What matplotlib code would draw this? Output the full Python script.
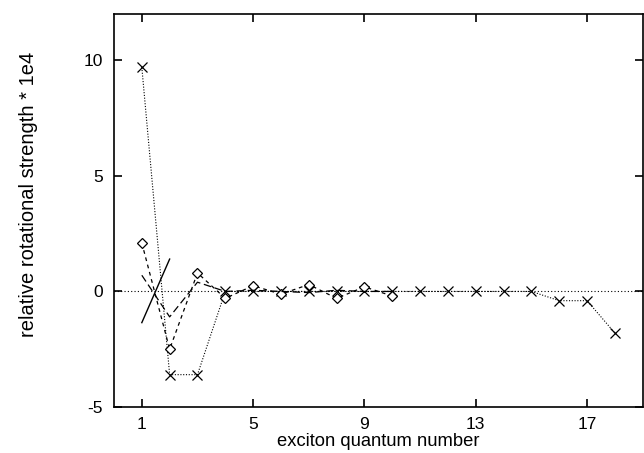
import matplotlib
matplotlib.use("Agg")
import matplotlib.pyplot as plt

plt.rcParams['font.family'] = ['Liberation Sans', 'DejaVu Sans']
plt.rcParams['axes.unicode_minus'] = False

# Data
x_cross = [1, 2, 3, 4, 5, 6, 7, 8, 9, 10, 11, 12, 13, 14, 15, 16, 17, 18]
y_cross = [9.7, -3.6, -3.6, 0.0, 0.0, 0.0, 0.0, 0.0, 0.0, 0.0, 0.0, 0.0, 0.0, 0.0, 0.0, -0.4, -0.4, -1.8]

x_diam = [1, 2, 3, 4, 5, 6, 7, 8, 9, 10]
y_diam = [2.1, -2.5, 0.8, -0.3, 0.25, -0.12, 0.3, -0.3, 0.2, -0.2]

x_long = [1, 2, 3, 4, 5, 6, 7, 8, 9, 10]
y_long = [0.7, -1.1, 0.4, 0.0, 0.05, 0.0, -0.05, 0.05, 0.0, 0.0]

x_solid = [1, 2]
y_solid = [-1.35, 1.4]

xticks = [1, 5, 9, 13, 17]
yticks = [-5, 0, 5, 10]

fig = plt.figure(figsize=(6.44, 4.53), dpi=100)
ax = fig.add_axes([0.177, 0.1015, 0.821, 0.8675])

ax.axhline(0, color='black', lw=0.8, ls=(0, (1, 2)))
ax.plot(x_cross, y_cross, color='black', lw=0.8, ls=(0, (1, 1.5)),
        marker='x', ms=7, mew=0.9)
ax.plot(x_diam, y_diam, color='black', lw=0.9, ls=(0, (3, 3)),
        marker='D', ms=5.5, mfc='white', mew=0.9)
ax.plot(x_long, y_long, color='black', lw=0.9, ls=(0, (6, 3)))
ax.plot(x_solid, y_solid, color='black', lw=1.0, ls='-')

ax.set_xlim(0, 19)
ax.set_ylim(-5, 12)
ax.set_xticks(xticks)
ax.set_yticks(yticks)
ax.tick_params(direction='in', top=True, right=True, length=6, width=1.2,
               labelsize=12.5, pad=8)
ax.tick_params(axis='x', pad=7)
for s in ax.spines.values():
    s.set_linewidth(1.2)

ax.set_xlabel('exciton quantum number', fontsize=13.2, labelpad=1)
ax.set_ylabel('relative rotational strength * 1e4', fontsize=14.5)
ax.yaxis.label.set_va('center')
ax.yaxis.set_label_coords(-0.161, 0.542)

fig.savefig('out.png', dpi=100)
